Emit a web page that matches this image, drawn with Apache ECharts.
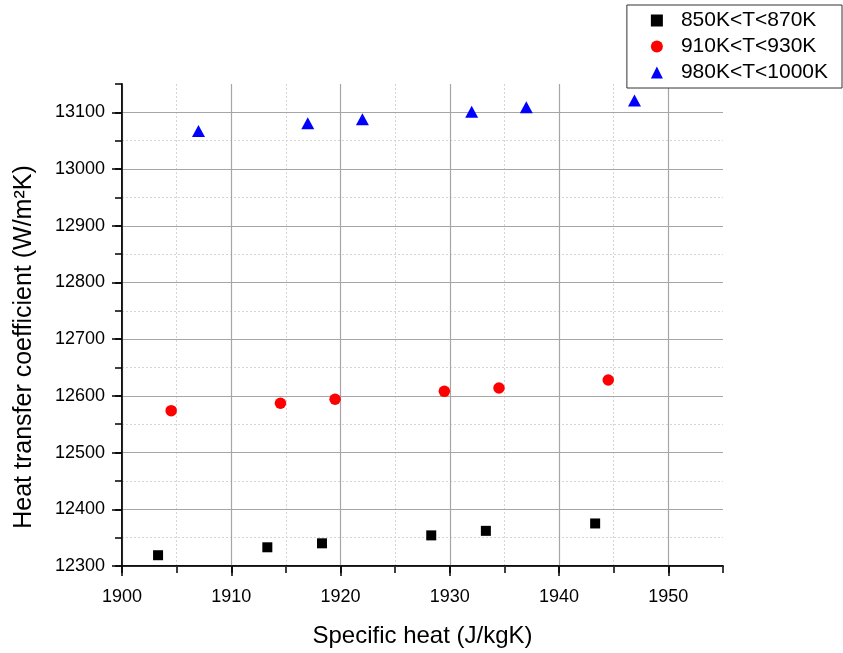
<!DOCTYPE html>
<html>
<head>
<meta charset="utf-8">
<script src="https://cdn.jsdelivr.net/npm/echarts@6/dist/echarts.min.js"></script>
<style>
html,body{margin:0;padding:0;background:#fff;}
#c{width:843px;height:653px;}
</style>
</head>
<body>
<div id="c"></div>
<script>
// ---- data ----
const seriesNames = ['850K<T<870K', '910K<T<930K', '980K<T<1000K'];
const xLow  = [1903.3, 1913.3, 1918.3, 1928.3, 1933.3, 1943.3];
const yLow  = [12319, 12333, 12340, 12354, 12362, 12375];
const xMid  = [1904.5, 1914.5, 1919.5, 1929.5, 1934.5, 1944.5];
const yMid  = [12574, 12587, 12594, 12608, 12614, 12628];
const xHigh = [1907.0, 1917.0, 1922.0, 1932.0, 1937.0, 1946.9];
const yHigh = [13067, 13081, 13088, 13101, 13109, 13121];
const xTitle = 'Specific heat (J/kgK)';
const yTitle = 'Heat transfer coefficient (W/m\u00B2K)';

const FONT = 'Liberation Sans, Arial, sans-serif';
const zip = (xs, ys) => xs.map((x, i) => [x, ys[i]]);

const chart = echarts.init(document.getElementById('c'), null, {renderer: 'canvas'});

const minorX = {
  type: 'value', position: 'bottom', min: 1900, max: 1955, interval: 5, z: 0,
  axisLine: {show: true, lineStyle: {color: '#000', width: 1.5}},
  axisTick: {show: true, inside: false, length: 7, lineStyle: {color: '#000', width: 1.5}},
  axisLabel: {show: false},
  splitLine: {show: true, showMaxLine: false, lineStyle: {color: '#d4d4d4', width: 1, type: [2, 2]}}
};
const majorX = {
  type: 'value', position: 'bottom', min: 1900, max: 1955, interval: 10, z: 1,
  name: xTitle, nameLocation: 'middle', nameGap: 58,
  nameTextStyle: {fontFamily: FONT, fontSize: 24, color: '#000'},
  axisLine: {show: true, lineStyle: {color: '#000', width: 1.5}},
  axisTick: {show: true, inside: false, length: 10, lineStyle: {color: '#000', width: 1.5}},
  axisLabel: {show: true, margin: 22, showMaxLabel: false, fontFamily: FONT, fontSize: 18, color: '#000',
    formatter: v => (v % 10 === 0 ? String(v) : '')},
  splitLine: {show: true, showMaxLine: false, lineStyle: {color: '#a6a6a6', width: 1.2, type: 'solid'}}
};
const minorY = {
  type: 'value', position: 'left', min: 12300, max: 13150, interval: 50, z: 0,
  axisLine: {show: true, lineStyle: {color: '#000', width: 1.5}},
  axisTick: {show: true, inside: false, length: 7, lineStyle: {color: '#000', width: 1.5}},
  axisLabel: {show: false},
  splitLine: {show: true, showMaxLine: false, lineStyle: {color: '#d4d4d4', width: 1, type: [2, 2]}}
};
const majorY = {
  type: 'value', position: 'left', min: 12300, max: 13150, interval: 100, z: 1,
  name: yTitle, nameLocation: 'middle', nameGap: 85, nameRotate: 90,
  nameTextStyle: {fontFamily: FONT, fontSize: 25, color: '#000', padding: [0, 44, 0, 0]},
  axisLine: {show: true, lineStyle: {color: '#000', width: 1.5}},
  axisTick: {show: true, inside: false, length: 10, lineStyle: {color: '#000', width: 1.5}},
  axisLabel: {show: true, margin: 17, showMaxLabel: false, fontFamily: FONT, fontSize: 18, color: '#000',
    formatter: v => (v % 100 === 0 ? String(v) : '')},
  splitLine: {show: true, showMaxLine: false, lineStyle: {color: '#a6a6a6', width: 1.2, type: 'solid'}}
};

const option = {
  animation: false,
  backgroundColor: '#fff',
  grid: {left: 122, right: 120, top: 84, bottom: 81, containLabel: false},
  xAxis: [minorX, majorX],
  yAxis: [minorY, majorY],
  legend: {
    orient: 'vertical', right: 1, top: 5,
    data: seriesNames,
    backgroundColor: '#fff', borderColor: '#333', borderWidth: 1, borderRadius: 0,
    padding: [5, 14, 5, 24], itemGap: 5, itemWidth: 12, itemHeight: 12,
    symbolKeepAspect: true,
    textStyle: {fontFamily: FONT, fontSize: 21, color: '#000', padding: [0, 0, 0, 13]}
  },
  series: [
    {name: seriesNames[0], type: 'scatter', xAxisIndex: 1, yAxisIndex: 1, z: 3,
     symbol: 'rect', symbolSize: 10, itemStyle: {color: '#000', opacity: 1}, data: zip(xLow, yLow)},
    {name: seriesNames[1], type: 'scatter', xAxisIndex: 1, yAxisIndex: 1, z: 3,
     symbol: 'circle', symbolSize: 11.5, itemStyle: {color: '#ff0000', opacity: 1}, data: zip(xMid, yMid)},
    {name: seriesNames[2], type: 'scatter', xAxisIndex: 1, yAxisIndex: 1, z: 3,
     symbol: 'triangle', symbolSize: [13, 12], itemStyle: {color: '#0000ff', opacity: 1}, data: zip(xHigh, yHigh)}
  ]
};
chart.setOption(option);
</script>
</body>
</html>
